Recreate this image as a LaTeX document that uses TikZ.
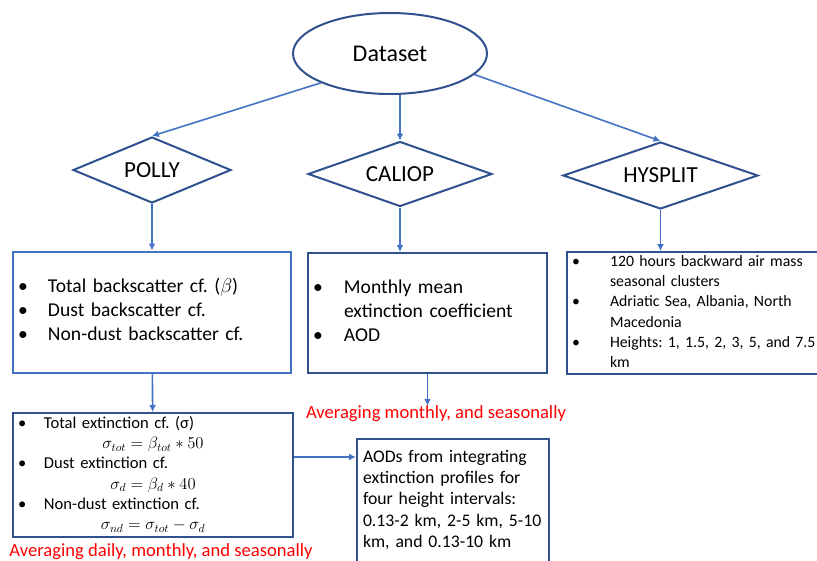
\RequirePackage{fix-cm}
\documentclass[tikz,border=0pt]{standalone}
\usepackage{fontspec}
\setmainfont{Carlito}
\usetikzlibrary{shapes.geometric,arrows.meta}
\definecolor{boxblue}{HTML}{2F528F}
\definecolor{linkblue}{HTML}{4472C4}
\definecolor{notered}{HTML}{FF0000}
\tikzset{
  source/.style={diamond, draw=boxblue, line width=2pt, inner sep=0pt, aspect=2.5, font=\fontsize{23}{27}\selectfont},
  infobox/.style={rectangle, draw=boxblue, line width=2pt, align=left, inner xsep=5pt, inner ysep=0pt},
  note/.style={text=notered, inner sep=0pt, font=\fontsize{18.6}{22}\selectfont},
  link/.style={->, >={Latex[length=7pt,width=7pt]}, draw=linkblue, line width=1.6pt}
}
\begin{document}
\frenchspacing
\begin{tikzpicture}[x=1pt,y=-1pt]
\useasboundingbox (0,0) rectangle (817,560);
\node[ellipse, draw=boxblue, line width=2pt, minimum width=194pt, minimum height=81pt, inner sep=0pt, font=\fontsize{24}{28}\selectfont] (dataset) at (390,53.5) {Dataset};
\node[source, minimum width=158pt, minimum height=66pt] (polly) at (152,170) {POLLY};
\node[source, minimum width=184pt, minimum height=65pt] (caliop) at (400,174) {CALIOP};
\node[source, minimum width=195pt, minimum height=67pt] (hysplit) at (660.5,175.5) {HYSPLIT};

\node[infobox, draw=linkblue, text width=268pt, minimum height=121pt, font=\fontsize{19.6}{24}\selectfont] (pollybox) at (152,312) {%
\begin{tabular}{@{}p{30pt}@{}l@{}}
\textbullet & Total backscatter cf. ($\beta$)\\
\textbullet & Dust backscatter cf.\\
\textbullet & Non-dust backscatter cf.
\end{tabular}};
\node[infobox, text width=229pt, minimum height=120pt, font=\fontsize{19.6}{24}\selectfont] (calbox) at (427.5,313) {%
\begin{tabular}{@{}p{31pt}@{}l@{}}
\textbullet & Monthly mean\\
 & extinction coefficient\\
\textbullet & AOD
\end{tabular}};
\node[infobox, text width=245pt, minimum height=120pt, font=\fontsize{15.8}{20.3}\selectfont] (hysbox) at (694.5,313) {%
\begin{tabular}{@{}p{38pt}@{}l@{}}
\textbullet & 120 hours backward air mass\\
 & seasonal clusters\\
\textbullet & Adriatic Sea, Albania, North\\
 & Macedonia\\
\textbullet & Heights: 1, 1.5, 2, 3, 5, and 7.5\\
 & km
\end{tabular}};

\node[infobox, text width=270pt, minimum height=124pt, font=\fontsize{16.6}{20.2}\selectfont] (extbox) at (153,475) {%
\begin{tabular}{@{}p{26pt}@{}p{244pt}@{}}
\textbullet & Total extinction cf. (σ)\\
\multicolumn{2}{@{}c@{}}{$\sigma_{tot} = \beta_{tot} * 50$}\\
\textbullet & Dust extinction cf.\\
\multicolumn{2}{@{}c@{}}{$\sigma_{d} = \beta_{d} * 40$}\\
\textbullet & Non-dust extinction cf.\\
\multicolumn{2}{@{}c@{}}{$\sigma_{nd} = \sigma_{tot} - \sigma_{d}$}
\end{tabular}};
\node[infobox, inner xsep=6pt, text width=180pt, minimum height=123pt, font=\fontsize{17.7}{21.3}\selectfont] (aodbox) at (453,500.5) {%
\begin{tabular}{@{}l@{}}
AODs from integrating\\
extinction profiles for\\
four height intervals:\\
0.13-2 km, 2-5 km, 5-10\\
km, and 0.13-10 km
\end{tabular}};

\node[note] (avgcal) at (436,414) {Averaging monthly, and seasonally};
\node[note] (avgpolly) at (161,552) {Averaging daily, monthly, and seasonally};

\draw[link] (dataset.203) -- (polly.north);
\draw[link] (caliop.north |- dataset.south) -- (caliop.north);
\draw[link] (dataset.-14) -- (hysplit.north);
\draw[link] (polly.south) -- (polly.south |- pollybox.north);
\draw[link] (caliop.south) -- (caliop.south |- calbox.north);
\draw[link] (hysplit.south) -- (hysplit.south |- hysbox.north);
\draw[link] (pollybox) -- (extbox);
\draw[link] (calbox) -- (calbox |- avgcal.north);
\draw[link] ([yshift=18pt]extbox.east) -- ([yshift=18pt]extbox.east -| aodbox.west);
\end{tikzpicture}
\end{document}
